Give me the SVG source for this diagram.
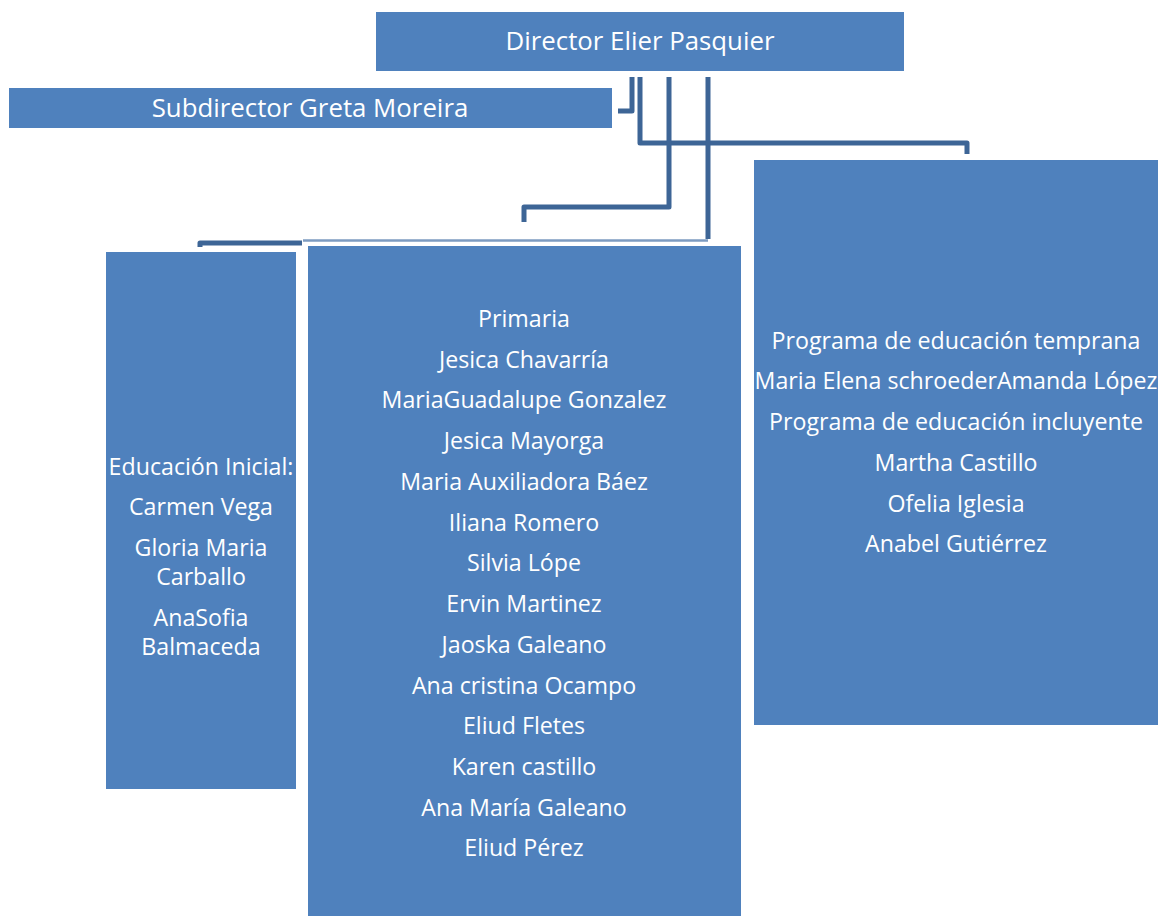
<svg xmlns="http://www.w3.org/2000/svg" width="1162" height="916" viewBox="0 0 1162 916">
<style>
.box{fill:#4F81BD;}
.t{fill:#FFFFFF;font-family:"Open Sans","Liberation Sans",sans-serif;font-size:23.2px;text-anchor:middle;}
.h{font-size:25.8px;}
.c{fill:none;stroke:#3D6596;stroke-width:5;stroke-linejoin:round;}
.thin{fill:none;stroke:#7D9BC1;stroke-width:2.5;}
</style>
<rect width="1162" height="916" fill="#FFFFFF"/>
<g id="connectors">
<polyline class="c" points="632,77 632,111 618,111"/>
<polyline class="c" points="640,77 640,143 967,143 967,154"/>
<polyline class="c" points="669,77 669,207 524,207 524,222"/>
<polyline class="c" points="708,77 708,239"/>
<line class="thin" x1="303" y1="240.5" x2="708" y2="240.5"/>
<polyline class="c" points="302,243 200,243 200,247"/>
</g>
<g id="director">
<rect class="box" x="376" y="12" width="528" height="59"/>
<text class="t h" x="640" y="50">Director Elier Pasquier</text>
</g>
<g id="subdirector">
<rect class="box" x="9" y="88" width="603" height="40"/>
<text class="t h" x="310" y="117">Subdirector Greta Moreira</text>
</g>
<g id="inicial">
<rect class="box" x="106" y="252" width="190" height="537"/>
<text class="t" x="201" y="475">Educación Inicial:</text>
<text class="t" x="201" y="515">Carmen Vega</text>
<text class="t" x="201" y="556">Gloria Maria</text>
<text class="t" x="201" y="585">Carballo</text>
<text class="t" x="201" y="626">AnaSofia</text>
<text class="t" x="201" y="655">Balmaceda</text>
</g>
<g id="primaria">
<rect class="box" x="308" y="246" width="433" height="670"/>
<text class="t" x="524" y="327">Primaria</text>
<text class="t" x="524" y="368">Jesica Chavarría</text>
<text class="t" x="524" y="408">MariaGuadalupe Gonzalez</text>
<text class="t" x="524" y="449">Jesica Mayorga</text>
<text class="t" x="524" y="490">Maria Auxiliadora Báez</text>
<text class="t" x="524" y="531">Iliana Romero</text>
<text class="t" x="524" y="571">Silvia Lópe</text>
<text class="t" x="524" y="612">Ervin Martinez</text>
<text class="t" x="524" y="653">Jaoska Galeano</text>
<text class="t" x="524" y="694">Ana cristina Ocampo</text>
<text class="t" x="524" y="734">Eliud Fletes</text>
<text class="t" x="524" y="775">Karen castillo</text>
<text class="t" x="524" y="816">Ana María Galeano</text>
<text class="t" x="524" y="856">Eliud Pérez</text>
</g>
<g id="programas">
<rect class="box" x="754" y="160" width="404" height="565"/>
<text class="t" x="956" y="349">Programa de educación temprana</text>
<text class="t" x="956" y="389">Maria Elena schroederAmanda López</text>
<text class="t" x="956" y="430">Programa de educación incluyente</text>
<text class="t" x="956" y="471">Martha Castillo</text>
<text class="t" x="956" y="512">Ofelia Iglesia</text>
<text class="t" x="956" y="552">Anabel Gutiérrez</text>
</g>
</svg>
